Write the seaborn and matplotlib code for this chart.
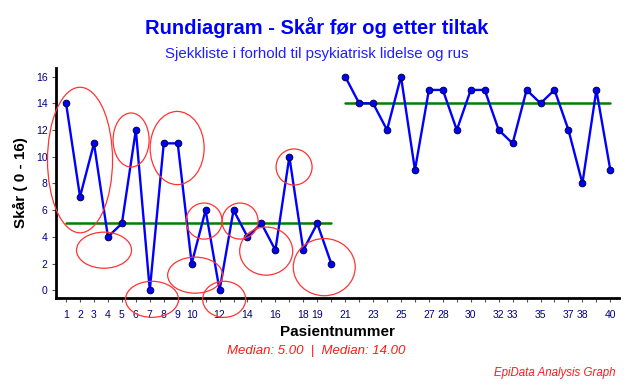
import matplotlib
matplotlib.use("Agg")
import matplotlib.pyplot as plt
from matplotlib.patches import Ellipse
import seaborn as sns
import pandas as pd

# --- data ---
pasient = list(range(1, 41))
skar_for = [14, 7, 11, 4, 5, 12, 0, 11, 11, 2, 6, 0, 6, 4, 5, 3, 10, 3, 5, 2]
skar_etter = [16, 14, 14, 12, 16, 9, 15, 15, 12, 15, 15, 12, 11, 15, 14, 15, 12, 8, 15, 9]
fase = ["for"] * 20 + ["etter"] * 20
median_for = 5.0
median_etter = 14.0
x_labels_shown = [1, 2, 3, 4, 5, 6, 7, 8, 9, 10, 12, 14, 16, 18, 19, 21, 23, 25,
                  27, 28, 30, 32, 33, 35, 37, 38, 40]
y_ticks = [0, 2, 4, 6, 8, 10, 12, 14, 16]
# run annotation ellipses (center x, center y, width, height) in data units
ell_cx = [2.0, 3.72, 5.66, 7.16, 8.96, 10.25, 10.89, 12.33, 13.47, 15.34, 17.34, 19.5]
ell_cy = [9.75, 3.0, 11.25, -0.68, 10.65, 1.13, 5.18, -0.68, 5.18, 2.93, 9.23, 1.73]
ell_w = [4.66, 3.94, 2.58, 3.8, 3.87, 3.94, 2.58, 3.08, 2.58, 3.8, 2.58, 4.44]
ell_h = [10.9, 2.7, 4.05, 2.7, 5.48, 2.7, 2.7, 2.7, 2.7, 3.6, 2.7, 4.28]

df = pd.DataFrame({"pasient": pasient, "skar": skar_for + skar_etter, "fase": fase})

sns.set_theme(style="white")
plt.rcParams["font.family"] = ["Liberation Sans", "DejaVu Sans"]

fig = plt.figure(figsize=(6.33, 3.88), dpi=100)
ax = fig.add_axes([0.0885, 0.232, 0.89, 0.593])

# median lines
ax.plot([1, 20], [median_for, median_for], color="#008000", lw=1.8, zorder=2)
ax.plot([21, 40], [median_etter, median_etter], color="#008000", lw=1.8, zorder=2)

sns.lineplot(data=df, x="pasient", y="skar", hue="fase", palette=["#0000FF", "#0000FF"],
             marker="o", markersize=4.8, markeredgecolor="#000040", markeredgewidth=0.7,
             linewidth=1.7, legend=False, ax=ax, zorder=3, estimator=None)

for cx, cy, w, h in zip(ell_cx, ell_cy, ell_w, ell_h):
    ax.add_patch(Ellipse((cx, cy), w, h, fill=False, edgecolor="#FF3333", lw=0.9,
                         clip_on=False, zorder=4))

ax.set_xlim(0.28, 40.65)
ax.set_ylim(-0.58, 16.65)
ax.set_xticks(pasient)
ax.set_xticklabels([str(p) if p in x_labels_shown else "" for p in pasient])
ax.set_yticks(y_ticks)
ax.set_yticklabels([str(v) for v in y_ticks])
ax.tick_params(axis="both", which="major", length=3, width=0.8, color="#555555",
               labelsize=7.5, labelcolor="#000080", direction="out", pad=2)
ax.tick_params(axis="x", bottom=True, pad=6)
ax.tick_params(axis="y", left=True, pad=3)

for s in ["top", "right"]:
    ax.spines[s].set_visible(False)
for s in ["left", "bottom"]:
    ax.spines[s].set_color("black")
    ax.spines[s].set_linewidth(2)

ax.set_xlabel("Pasientnummer", fontsize=11, fontweight="bold", color="black", labelpad=3)
ax.set_ylabel("Skår ( 0 - 16)", fontsize=11, fontweight="bold", color="black", labelpad=6)

fig.text(0.5, 0.93, "Rundiagram - Skår før og etter tiltak", ha="center", va="center",
         fontsize=14.5, fontweight="bold", color="#0000FF")
fig.text(0.5, 0.862, "Sjekkliste i forhold til psykiatrisk lidelse og rus", ha="center",
         va="center", fontsize=10.8, color="#2020FF")
fig.text(0.5, 0.095, "Median: 5.00  |  Median: 14.00", ha="center", va="center",
         fontsize=9.5, style="italic", color="#FF1A1A")
fig.text(0.972, 0.038, "EpiData Analysis Graph", ha="right", va="center",
         fontsize=8.3, style="italic", color="#FF1A1A")

fig.savefig("out.png", dpi=100)
